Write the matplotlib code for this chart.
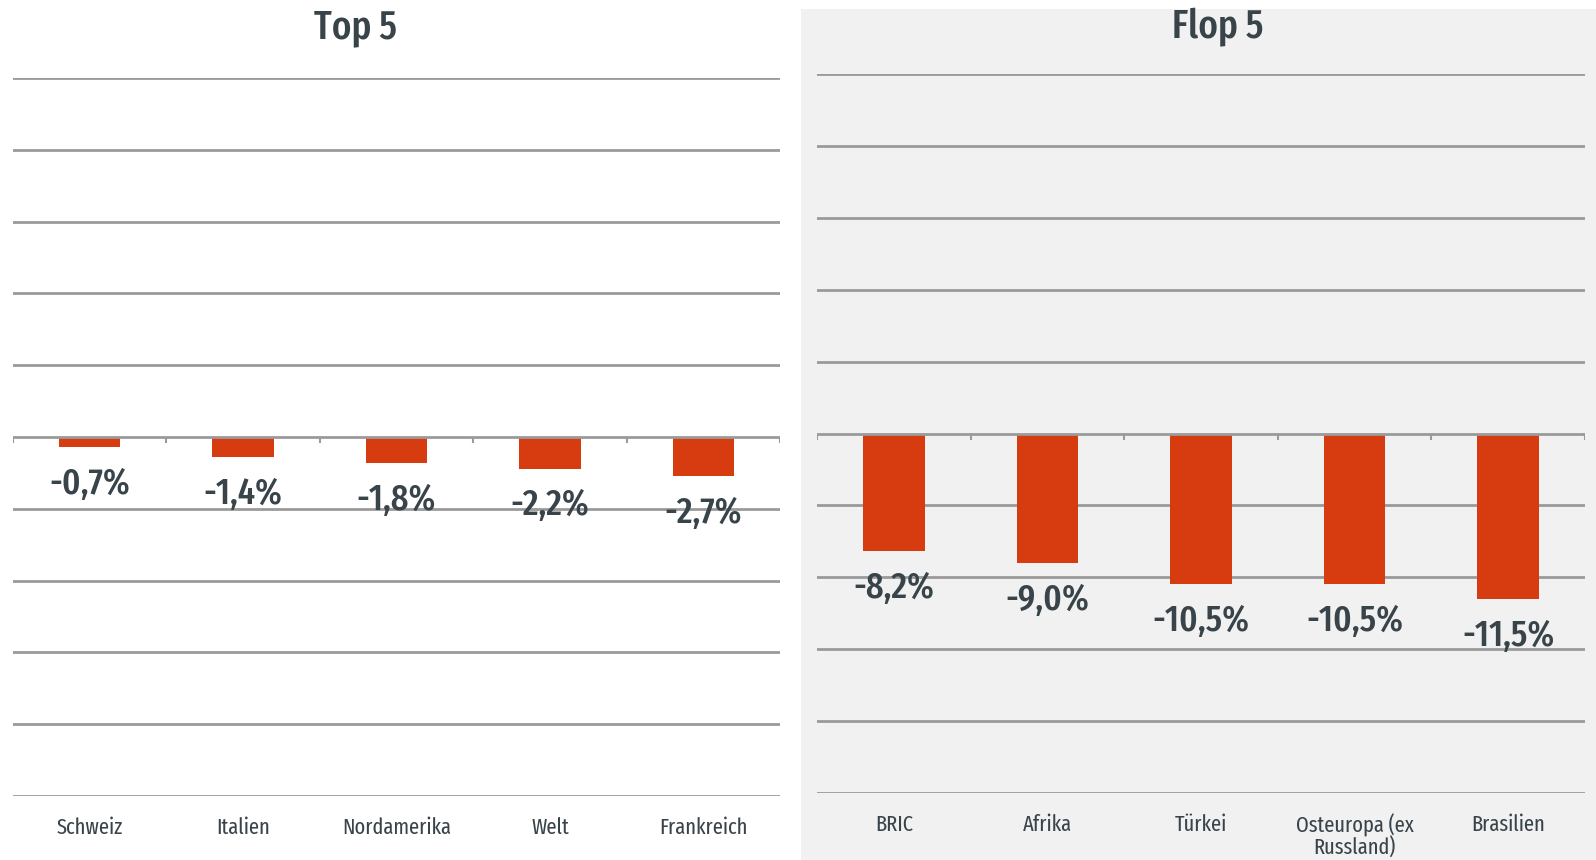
import matplotlib
matplotlib.use("Agg")
import matplotlib.pyplot as plt
from matplotlib import font_manager
from matplotlib.patches import Rectangle

names = {f.name for f in font_manager.fontManager.ttflist}
prefs = ["Fira Sans Extra Condensed", "Fira Sans Condensed", "Roboto Condensed"]
FONT = next((p for p in prefs if p in names), "DejaVu Sans")
plt.rcParams['font.family'] = [FONT, 'DejaVu Sans']

top_categories = ["Schweiz", "Italien", "Nordamerika", "Welt", "Frankreich"]
top_values = [-0.7, -1.4, -1.8, -2.2, -2.7]
flop_categories = ["BRIC", "Afrika", "Türkei", "Osteuropa (ex\nRussland)", "Brasilien"]
flop_values = [-8.2, -9.0, -10.5, -10.5, -11.5]
titles = ["Top 5", "Flop 5"]
gridlines = [-25, -20, -15, -10, -5, 5, 10, 15, 20, 25]

W, H = 1596, 860
fig = plt.figure(figsize=(W / 100, H / 100), dpi=100)
fig.patch.set_facecolor("white")
fig.patches.append(Rectangle((801 / W, 0), (W - 801) / W, (H - 9) / H,
                             transform=fig.transFigure, facecolor="#f1f1f1",
                             edgecolor="none", zorder=-5))

BAR = "#d73c10"
TXT = "#38434a"
GRID = "#9a9a9a"

def panel(rect, cats, vals, title, title_xy):
    l, t, r, b = rect
    ax = fig.add_axes([l / W, (H - b) / H, (r - l) / W, (b - t) / H])
    ax.set_facecolor("none")
    ax.set_xlim(-0.5, len(cats) - 0.5)
    ax.set_ylim(-25, 25)
    for g in gridlines:
        ax.axhline(g, color=GRID, lw=2, zorder=1)
    ax.axhline(0, color=GRID, lw=2, zorder=3)
    for k in range(len(cats) + 1):
        ax.plot([k - 0.5, k - 0.5], [0, -0.45], color=GRID, lw=1.5, zorder=3,
                solid_capstyle="butt")
    x = list(range(len(cats)))
    ax.bar(x, vals, width=0.4, color=BAR, zorder=2)
    for i, v in enumerate(vals):
        ax.annotate(f"{v:.1f}%".replace(".", ","), xy=(i, v), xytext=(0, -37),
                    textcoords="offset pixels", ha="center", va="center",
                    fontsize=27, color=TXT, fontweight="medium")
    ax.set_xticks(x)
    ax.set_xticklabels(cats, fontsize=16, color=TXT, va="top", linespacing=1.0,
                       fontweight="normal")
    ax.tick_params(axis="x", length=0, pad=15)
    ax.set_yticks([])
    for s in ax.spines.values():
        s.set_visible(False)
    fig.text(title_xy[0] / W, 1 - title_xy[1] / H, title, ha="center", va="center",
             fontsize=29, color=TXT, fontweight="medium")
    return ax

panel((13, 78, 780, 796), top_categories, top_values, titles[0], (356, 27))
panel((817, 74, 1585, 793), flop_categories, flop_values, titles[1], (1218, 27))

fig.savefig("out.png", dpi=100)
